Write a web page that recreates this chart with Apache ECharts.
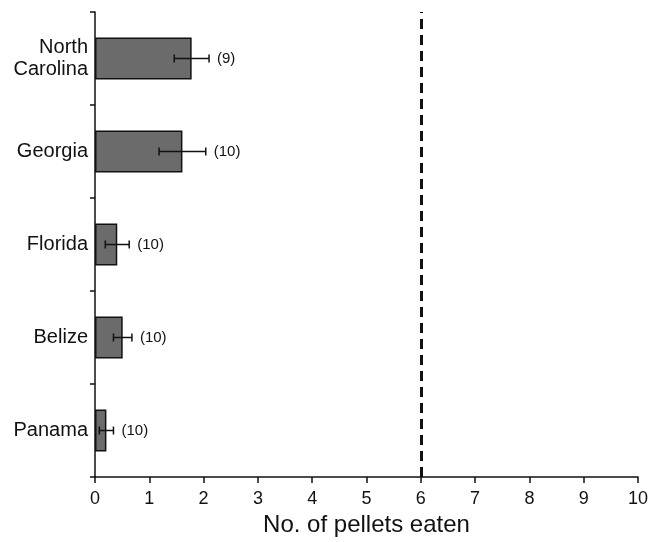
<!DOCTYPE html>
<html><head><meta charset="utf-8">
<script src="https://cdn.jsdelivr.net/npm/echarts@6/dist/echarts.min.js"></script>
<style>html,body{margin:0;padding:0;background:#fff}#c{width:651px;height:542px}</style>
</head><body><div id="c"></div>
<script>
const categories = ['Panama', 'Belize', 'Florida', 'Georgia', 'North\nCarolina'];
const means = [0.21, 0.51, 0.41, 1.61, 1.78];
const errors = [0.13, 0.17, 0.22, 0.43, 0.32];
const sampleSizes = ['(10)', '(10)', '(10)', '(10)', '(9)'];
const xTicks = [0, 1, 2, 3, 4, 5, 6, 7, 8, 9, 10];
const threshold = 6;

const chart = echarts.init(document.getElementById('c'));
const font = 'Helvetica, Arial, "Liberation Sans", sans-serif';
chart.setOption({
  animation: false,
  grid: { left: 95, right: 13, top: 12, bottom: 61 },
  xAxis: {
    type: 'value', min: xTicks[0], max: xTicks[xTicks.length - 1], interval: 1,
    name: 'No. of pellets eaten', nameLocation: 'middle', nameGap: 36,
    nameTextStyle: { fontSize: 24, color: '#111', fontFamily: font },
    axisLine: { show: true, lineStyle: { color: '#111', width: 1.5 } },
    axisTick: { show: true, length: 6, lineStyle: { color: '#111', width: 1.5 } },
    axisLabel: { fontSize: 18, color: '#111', fontFamily: font, margin: 13 },
    splitLine: { show: false }
  },
  yAxis: {
    type: 'category', data: categories,
    axisLine: { show: true, lineStyle: { color: '#111', width: 1.5 } },
    axisTick: { show: true, length: 5, lineStyle: { color: '#111', width: 1.5 } },
    axisLabel: { fontSize: 20, color: '#111', fontFamily: font, margin: 7, lineHeight: 22, align: 'right' }
  },
  series: [
    {
      type: 'bar', data: means, barWidth: '45%',
      itemStyle: { color: '#6b6b6b', borderColor: '#111', borderWidth: 1.5 },
      markLine: {
        silent: true, symbol: 'none', label: { show: false },
        lineStyle: { color: '#111', type: [10, 6], width: 3 },
        data: [{ xAxis: threshold }]
      }
    },
    {
      type: 'custom',
      data: means.map((m, i) => [i, m - errors[i], m + errors[i]]),
      renderItem: function (params, api) {
        const i = api.value(0);
        const lo = api.coord([api.value(1), i]);
        const hi = api.coord([api.value(2), i]);
        const y = lo[1];
        const h = 4;
        const st = { stroke: '#111', lineWidth: 1.5 };
        return {
          type: 'group',
          children: [
            { type: 'line', shape: { x1: lo[0], y1: y, x2: hi[0], y2: y }, style: st },
            { type: 'line', shape: { x1: lo[0], y1: y - h, x2: lo[0], y2: y + h }, style: st },
            { type: 'line', shape: { x1: hi[0], y1: y - h, x2: hi[0], y2: y + h }, style: st },
            { type: 'text', x: hi[0] + 8, y: y, style: { text: sampleSizes[i], fill: '#111', font: '15px ' + font, textVerticalAlign: 'middle', verticalAlign: 'middle' } }
          ]
        };
      },
      encode: { x: [1, 2], y: 0 },
      z: 5
    }
  ]
});
</script></body></html>
